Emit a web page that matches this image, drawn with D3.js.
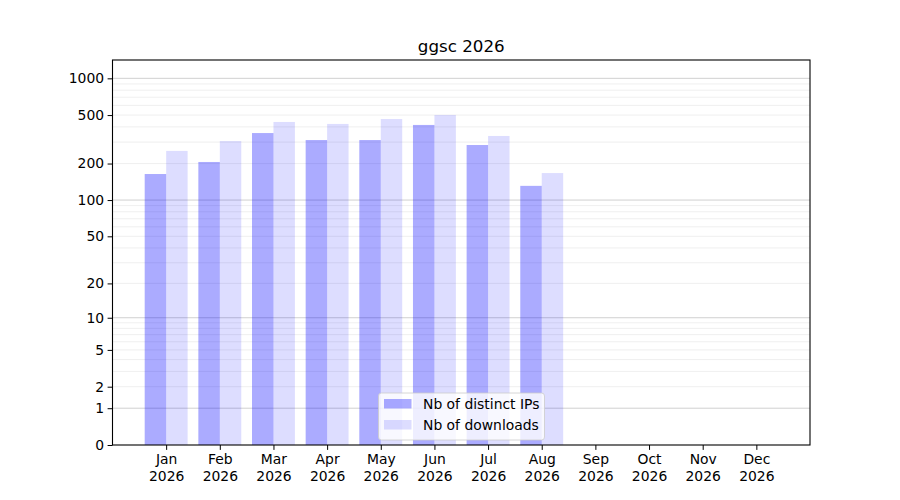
<!DOCTYPE html>
<html>
<head>
<meta charset="utf-8">
<script src="https://cdn.jsdelivr.net/npm/d3@7"></script>
<style>
  body { margin: 0; background: #fff; }
  text { font-family: "DejaVu Sans", sans-serif; fill: #000; }
</style>
</head>
<body>
<div id="chart"></div>
<script>
var months = ["Jan", "Feb", "Mar", "Apr", "May", "Jun", "Jul", "Aug", "Sep", "Oct", "Nov", "Dec"];
var year = "2026";
var distinctIPs = [164, 206, 356, 312, 312, 415, 284, 131];
var downloads = [254, 306, 439, 423, 464, 501, 337, 167];
var yTicks = [0, 1, 2, 5, 10, 20, 50, 100, 200, 500, 1000];
var majorGrid = [1, 10, 100, 1000];
var minorGrid = [2, 3, 4, 5, 6, 7, 8, 9, 20, 30, 40, 50, 60, 70, 80, 90,
                 200, 300, 400, 500, 600, 700, 800, 900];

var width = 900, height = 500;
var plotLeft = 112.5, plotRight = 810, plotTop = 60, plotBottom = 445;
var barW = 0.4;
var fontSize = "13.9px";

var svg = d3.select("#chart").append("svg")
    .attr("width", width)
    .attr("height", height);

// x in month units, ticks at 1..12
var x = d3.scaleLinear().domain([0, 13]).range([plotLeft, plotRight]);
// y looks like log10(1 + v), same shape as symlog with constant 1
var y = d3.scaleSymlog().constant(1).domain([0, 1413]).range([plotBottom, plotTop]);

// grid lines
svg.append("g").selectAll("line")
    .data(minorGrid)
    .enter().append("line")
    .attr("x1", plotLeft).attr("x2", plotRight)
    .attr("y1", function (d) { return y(d); })
    .attr("y2", function (d) { return y(d); })
    .attr("stroke", "#ebebeb")
    .attr("stroke-width", 0.8);

svg.append("g").selectAll("line")
    .data(majorGrid)
    .enter().append("line")
    .attr("x1", plotLeft).attr("x2", plotRight)
    .attr("y1", function (d) { return y(d); })
    .attr("y2", function (d) { return y(d); })
    .attr("stroke", "#c4c4c4")
    .attr("stroke-width", 0.8);

/* bars: IPs left of the tick, downloads right of it */
svg.append("g").selectAll("rect")
    .data(distinctIPs)
    .enter().append("rect")
    .attr("x", function (d, i) { return x(i + 1 - barW); })
    .attr("y", function (d) { return y(d); })
    .attr("width", x(barW) - x(0))
    .attr("height", function (d) { return y(0) - y(d); })
    .attr("fill", "blue")
    .attr("fill-opacity", 0.33);

svg.append("g").selectAll("rect")
    .data(downloads)
    .enter().append("rect")
    .attr("x", function (d, i) { return x(i + 1); })
    .attr("y", function (d) { return y(d); })
    .attr("width", x(barW) - x(0))
    .attr("height", function (d) { return y(0) - y(d); })
    .attr("fill", "blue")
    .attr("fill-opacity", 0.133);

// axes
var xAxis = d3.axisBottom(x)
    .tickValues(d3.range(1, 13))
    .tickSize(4.9)
    .tickPadding(4)
    .tickFormat(function (d) { return months[d - 1]; });

var gx = svg.append("g")
    .attr("transform", "translate(0," + plotBottom + ")")
    .call(xAxis);
gx.select(".domain").remove();
gx.selectAll("text")
    .attr("font-size", fontSize)
    .attr("font-family", "DejaVu Sans")
    .each(function () {
        var t = d3.select(this);
        var m = t.text();
        t.text(null);
        t.append("tspan").attr("x", 0).attr("dy", "0.76em").text(m);
        t.append("tspan").attr("x", 0).attr("dy", "1.17em").text(year);
    })
    .attr("dy", null);

var yAxis = d3.axisLeft(y)
    .tickValues(yTicks)
    .tickSize(4.9)
    .tickPadding(3.5)
    .tickFormat(d3.format("d"));

var gy = svg.append("g")
    .attr("transform", "translate(" + plotLeft + ",0)")
    .call(yAxis);
gy.select(".domain").remove();
gy.selectAll("text")
    .attr("font-size", fontSize)
    .attr("font-family", "DejaVu Sans");

svg.selectAll(".tick line").attr("stroke", "#000").attr("stroke-width", 1);

// frame
svg.append("rect")
    .attr("x", plotLeft).attr("y", plotTop)
    .attr("width", plotRight - plotLeft).attr("height", plotBottom - plotTop)
    .attr("fill", "none")
    .attr("stroke", "#000")
    .attr("stroke-width", 1.1);

// title
svg.append("text")
    .attr("x", (plotLeft + plotRight) / 2)
    .attr("y", 52)
    .attr("text-anchor", "middle")
    .attr("font-size", "16.7px")
    .text("ggsc " + year);

/* legend, lower center */
var legendItems = [
    { label: "Nb of distinct IPs", opacity: 0.33 },
    { label: "Nb of downloads", opacity: 0.133 }
];
var lg = svg.append("g");
lg.append("rect")
    .attr("x", 378.5).attr("y", 393)
    .attr("width", 166).attr("height", 47)
    .attr("rx", 3)
    .attr("fill", "#fff")
    .attr("fill-opacity", 0.8)
    .attr("stroke", "#cccccc")
    .attr("stroke-width", 0.8);

var li = lg.selectAll(".item")
    .data(legendItems)
    .enter().append("g")
    .attr("transform", function (d, i) { return "translate(384," + (404 + i * 21) + ")"; });
li.append("rect")
    .attr("x", 0).attr("y", -5)
    .attr("width", 27.5).attr("height", 9.5)
    .attr("fill", "blue")
    .attr("fill-opacity", function (d) { return d.opacity; });
li.append("text")
    .attr("x", 39)
    .attr("y", 0)
    .attr("dy", "0.35em")
    .attr("font-size", fontSize)
    .text(function (d) { return d.label; });
</script>
</body>
</html>
